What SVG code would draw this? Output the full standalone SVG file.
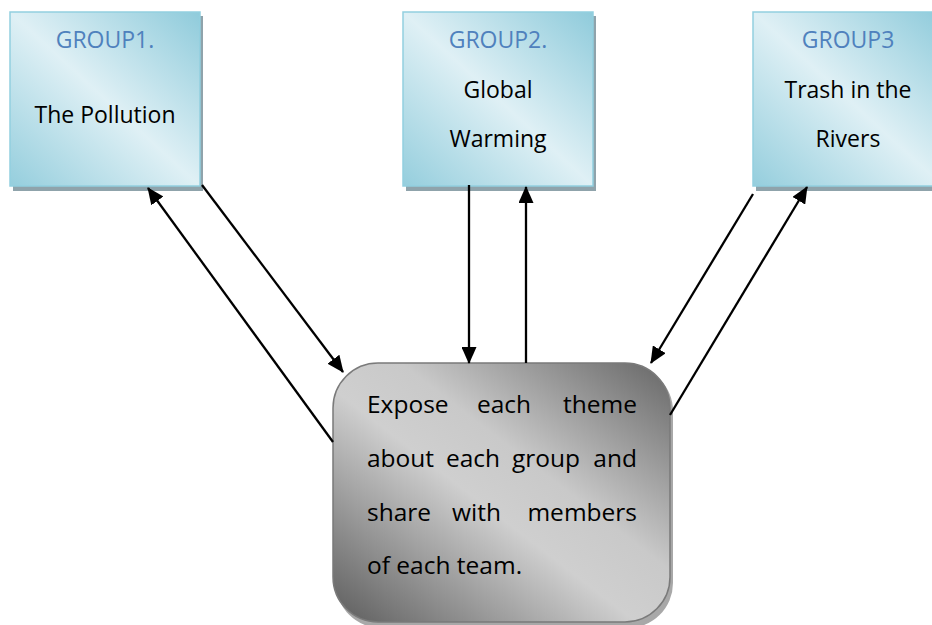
<svg xmlns="http://www.w3.org/2000/svg" width="932" height="625" viewBox="0 0 932 625">
<style>
.box{fill:url(#blue);stroke:#92cfdf;stroke-width:1.5}
.shadow{fill:#8fa3ab}
.t{font-family:"Open Sans","Noto Sans","Liberation Sans",sans-serif;font-size:23px;fill:#000}
.b{font-size:24.5px}
.e{text-anchor:end}
.h{fill:#4f81bd;text-anchor:middle}
.c{text-anchor:middle}
.conn{stroke:#000;stroke-width:2.3;fill:none;marker-end:url(#ah)}
</style>
<defs>
<linearGradient id="blue" x1="0" y1="1" x2="1" y2="0">
<stop offset="0" stop-color="#95cedd"/>
<stop offset="0.5" stop-color="#dff0f5"/>
<stop offset="1" stop-color="#8fcbdb"/>
</linearGradient>
<linearGradient id="gray" x1="0" y1="1" x2="1" y2="0">
<stop offset="0" stop-color="#5c5c5c"/>
<stop offset="0.45" stop-color="#cfcfcf"/>
<stop offset="0.6" stop-color="#c9c9c9"/>
<stop offset="1" stop-color="#666666"/>
</linearGradient>
<marker id="ah" markerUnits="userSpaceOnUse" markerWidth="17" markerHeight="15" refX="16" refY="7.5" orient="auto">
<path d="M0,0 L17,7.5 L0,15 z" fill="#000"/>
</marker>
</defs>

<g id="group1">
<rect class="shadow" x="13" y="16" width="190" height="175"/>
<rect class="box" x="10" y="12" width="190" height="174"/>
<text class="t h" x="105" y="48">GROUP1.</text>
<text class="t c" x="105" y="123">The Pollution</text>
</g>

<g id="group2">
<rect class="shadow" x="406" y="16" width="190" height="175"/>
<rect class="box" x="403" y="12" width="190" height="174"/>
<text class="t h" x="498" y="48">GROUP2.</text>
<text class="t c" x="498" y="98">Global</text>
<text class="t c" x="498" y="147">Warming</text>
</g>

<g id="group3">
<rect class="shadow" x="756" y="16" width="190" height="175"/>
<rect class="box" x="753" y="12" width="190" height="174"/>
<text class="t h" x="848" y="48">GROUP3</text>
<text class="t c" x="848" y="98">Trash in the</text>
<text class="t c" x="848" y="147">Rivers</text>
</g>

<g id="center">
<rect x="336" y="366" width="337" height="262" rx="45" ry="45" fill="#a8a8a8"/>
<rect x="333" y="363" width="337" height="259" rx="45" ry="45" fill="url(#gray)" stroke="#7a7a7a" stroke-width="1.5"/>
<text class="t b" x="367" y="413">Expose</text>
<text class="t b" x="477" y="413">each</text>
<text class="t b e" x="637" y="413">theme</text>
<text class="t b" x="367" y="467">about</text>
<text class="t b" x="446" y="467">each</text>
<text class="t b" x="512" y="467">group</text>
<text class="t b e" x="637" y="467">and</text>
<text class="t b" x="367" y="521">share</text>
<text class="t b" x="452" y="521">with</text>
<text class="t b e" x="637" y="521">members</text>
<text class="t b" x="367" y="574">of each team.</text>
</g>

<g id="connectors">
<line class="conn" x1="202" y1="185" x2="343" y2="372"/>
<line class="conn" x1="333" y1="442" x2="148" y2="188"/>
<line class="conn" x1="469" y1="185" x2="469" y2="363"/>
<line class="conn" x1="526" y1="363" x2="526" y2="187"/>
<line class="conn" x1="753" y1="194" x2="651" y2="363"/>
<line class="conn" x1="670" y1="415" x2="807" y2="187"/>
</g>
</svg>
